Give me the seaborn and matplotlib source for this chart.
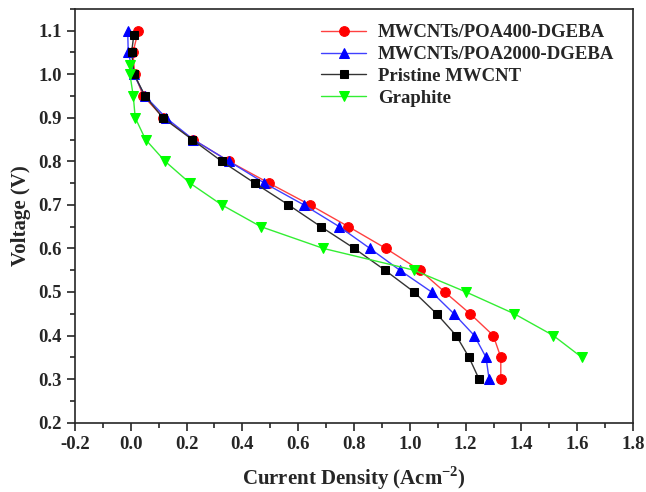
import matplotlib
matplotlib.use("Agg")
import matplotlib.pyplot as plt
import seaborn as sns
import pandas as pd
from matplotlib.ticker import MultipleLocator

# voltage steps (V) and current density (A cm^-2)
v_red = [1.10, 1.05, 1.00, 0.95, 0.90, 0.85, 0.80, 0.75, 0.70, 0.65, 0.60, 0.55, 0.50, 0.45, 0.40, 0.35, 0.30]
i_red = [0.027, 0.008, 0.014, 0.045, 0.117, 0.224, 0.352, 0.495, 0.642, 0.780, 0.914, 1.036, 1.125, 1.216, 1.299, 1.326, 1.326]

v_blue = [1.10, 1.05, 1.00, 0.95, 0.90, 0.85, 0.80, 0.75, 0.70, 0.65, 0.60, 0.55, 0.50, 0.45, 0.40, 0.35, 0.30]
i_blue = [-0.011, -0.009, 0.010, 0.051, 0.126, 0.224, 0.352, 0.479, 0.620, 0.747, 0.857, 0.964, 1.078, 1.158, 1.231, 1.273, 1.284]

v_black = [1.09, 1.05, 1.00, 0.95, 0.90, 0.85, 0.80, 0.75, 0.70, 0.65, 0.60, 0.55, 0.50, 0.45, 0.40, 0.35, 0.30]
i_black = [0.011, 0.003, 0.012, 0.051, 0.115, 0.220, 0.326, 0.444, 0.565, 0.681, 0.801, 0.911, 1.015, 1.096, 1.166, 1.212, 1.248]

v_green = [1.02, 1.00, 0.95, 0.90, 0.85, 0.80, 0.75, 0.70, 0.65, 0.60, 0.55, 0.50, 0.45, 0.40, 0.35]
i_green = [-0.003, -0.003, 0.009, 0.016, 0.053, 0.123, 0.212, 0.326, 0.466, 0.690, 1.015, 1.201, 1.374, 1.514, 1.616]

labels = ["MWCNTs/POA400-DGEBA", "MWCNTs/POA2000-DGEBA", "Pristine MWCNT", "Graphite"]

sns.set_style("ticks")
plt.rcParams["font.family"] = ["Liberation Serif", "DejaVu Serif"]
plt.rcParams["font.weight"] = "bold"
plt.rcParams["axes.labelweight"] = "bold"
plt.rcParams["axes.unicode_minus"] = False
plt.rcParams["mathtext.fontset"] = "custom"
plt.rcParams["mathtext.bf"] = "Liberation Serif:bold"
plt.rcParams["mathtext.rm"] = "Liberation Serif:bold"

fig = plt.figure(figsize=(6.46, 4.92), dpi=100)
ax = fig.add_axes([0.116, 0.141, 0.864, 0.841])

series = [
    (i_red, v_red, "#ff0000", "#ff4040", "o", 7.0),
    (i_blue, v_blue, "#0000ff", "#4040ff", "^", 7.5),
    (i_black, v_black, "#000000", "#333333", "s", 6.0),
    (i_green, v_green, "#00ff00", "#33ee33", "v", 7.5),
]
for (x, y, c, lc, m, ms), lab in zip(series, labels):
    df = pd.DataFrame({"I": x, "V": y})
    sns.lineplot(data=df, x="I", y="V", sort=False, estimator=None, ax=ax,
                 color=lc, lw=1.0, marker=m, markersize=ms,
                 markerfacecolor=c, markeredgecolor=c, label=lab)

ax.set_xlim(-0.2, 1.8)
ax.set_ylim(0.2, 1.15)
ax.xaxis.set_major_locator(MultipleLocator(0.2))
ax.xaxis.set_minor_locator(MultipleLocator(0.1))
ax.yaxis.set_major_locator(MultipleLocator(0.1))
ax.yaxis.set_minor_locator(MultipleLocator(0.05))
ax.tick_params(which="major", direction="out", length=6, width=1.2, labelsize=13.5)
ax.tick_params(which="minor", direction="out", length=3.5, width=1.2)
for lbl in ax.get_xticklabels() + ax.get_yticklabels():
    lbl.set_fontweight("bold")
for s in ax.spines.values():
    s.set_linewidth(1.2)

ax.set_xlabel("Current Density (Acm$^{\\mathbf{-2}}$)", fontsize=15, fontweight="bold", labelpad=8)
ax.set_ylabel("Voltage (V)", fontsize=15, fontweight="bold", labelpad=5)

leg = ax.legend(loc="upper right", bbox_to_anchor=(0.986, 0.99), frameon=False,
                prop={"size": 13.5, "weight": "bold"},
                handlelength=2.4, borderaxespad=0.2, labelspacing=0.25, handletextpad=0.6)

fig.savefig("out.png", dpi=100)
